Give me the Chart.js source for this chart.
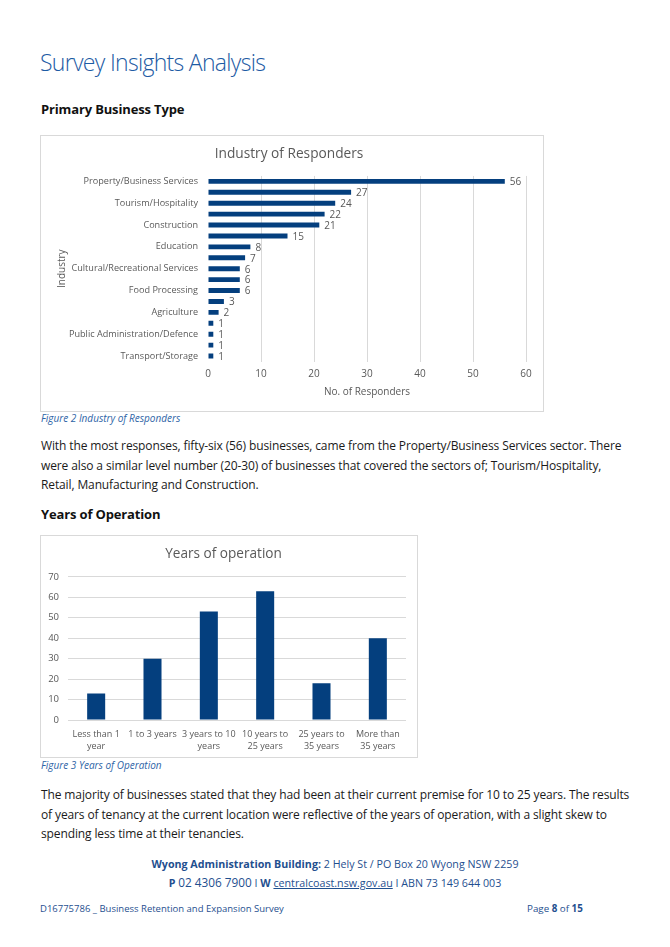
<!DOCTYPE html>
<html>
<head>
<meta charset="utf-8">
<script src="https://cdn.jsdelivr.net/npm/chart.js@4"></script>
<style>
body{margin:0;width:670px;height:947px;background:#fff;font-family:"Open Sans",sans-serif;color:#1a1a1a;position:relative;overflow:hidden}
.abs{position:absolute;white-space:nowrap}
h1{position:absolute;left:40px;top:46px;margin:0;font-size:23px;font-weight:300;color:#1d5ba4;letter-spacing:-0.7px}
h2{position:absolute;left:41px;margin:0;font-size:13px;font-weight:700;color:#111;letter-spacing:-0.15px}
.cap{position:absolute;left:41px;font-size:10px;font-style:italic;color:#2e64a6}
.para{position:absolute;left:41px;font-size:12px;line-height:19.5px;white-space:nowrap;letter-spacing:-0.12px}
.box{position:absolute;border:1px solid #d9d9d9;background:#fff}
.box canvas{position:absolute;left:0;top:0}
.foot{position:absolute;left:0;width:670px;text-align:center;color:#1f4f8f;white-space:nowrap}
</style>
</head>
<body>

<h1>Survey Insights Analysis</h1>
<h2 style="top:100px">Primary Business Type</h2>

<div class="box" style="left:40px;top:135px;width:502px;height:275px"><canvas id="industry"></canvas></div>
<div class="cap" style="top:411px">Figure 2 Industry of Responders</div>

<div class="para" style="top:436px">With the most responses, fifty-six (56) businesses, came from the Property/Business Services sector. There<br>were also a similar level number (20-30) of businesses that covered the sectors of; Tourism/Hospitality,<br>Retail, Manufacturing and Construction.</div>

<h2 style="top:505px">Years of Operation</h2>

<div class="box" style="left:40px;top:535px;width:376px;height:221px"><canvas id="years"></canvas></div>
<div class="cap" style="top:758px">Figure 3 Years of Operation</div>

<div class="para" style="top:785px">The majority of businesses stated that they had been at their current premise for 10 to 25 years. The results<br>of years of tenancy at the current location were reflective of the years of operation, with a slight skew to<br>spending less time at their tenancies.</div>

<div class="foot" style="top:857px;font-size:10.7px"><b>Wyong Administration Building:</b> 2 Hely St / PO Box 20 Wyong NSW 2259</div>
<div class="foot" style="top:874px;font-size:10.7px"><b>P</b> <span style="font-size:11.8px">02 4306 7900</span> I <b>W</b> <u>centralcoast.nsw.gov.au</u> I ABN 73 149 644 003</div>
<div class="abs" style="left:40px;top:902px;font-size:9.5px;color:#1f4f8f">D16775786 _ Business Retention and Expansion Survey</div>
<div class="abs" style="left:527px;top:902px;font-size:9.8px;color:#1f4f8f">Page <b>8</b> of <b>15</b></div>

<script>
// industry chart data (only every second label is shown in the original)
const industries=["Property/Business Services","Retail","Tourism/Hospitality","Manufacturing","Construction","",
"Education","","Cultural/Recreational Services","","Food Processing","","Agriculture","",
"Public Administration/Defence","","Transport/Storage"]
const responders=[56,27,24,22,21,15,8,7,6,6,6,3,2,1,1,1,1]
const responderTicks=[0,10,20,30,40,50,60]

// years of operation data
const yearGroups=[["Less than 1","year"],"1 to 3 years",["3 years to 10","years"],["10 years to","25 years"],["25 years to","35 years"],["More than","35 years"]]
const yearCounts=[13,30,53,63,18,40]

const BLUE="#043f7e"
const GREY="#595959"
const GRID="#d9d9d9"
const FONT="'Open Sans', sans-serif"

Chart.defaults.font.family=FONT
Chart.defaults.color=GREY

function sizeCanvas(id,w,h){
let c=document.getElementById(id)
c.width=w;c.height=h
c.style.width=w+"px";c.style.height=h+"px"
return c
}

// value labels at the end of each bar
const valueLabels={
id:"valueLabels",
afterDatasetsDraw(chart){
let ctx=chart.ctx
let meta=chart.getDatasetMeta(0)
ctx.save()
ctx.font="10px "+FONT
ctx.fillStyle=GREY
ctx.textAlign="left"
ctx.textBaseline="middle"
meta.data.forEach((bar,i)=>{
ctx.fillText(chart.data.datasets[0].data[i],bar.x+5,bar.y+1)
})
ctx.restore()
}
}

new Chart(sizeCanvas("industry",502,275),{
type:"bar",
data:{
labels:industries,
datasets:[{data:responders,backgroundColor:BLUE,categoryPercentage:1,barPercentage:0.45}]
},
options:{
indexAxis:"y",
responsive:false,
animation:false,
layout:{padding:{left:11,right:17,top:10,bottom:8}},
plugins:{
legend:{display:false},
tooltip:{enabled:false},
title:{display:true,text:"Industry of Responders",font:{size:13.7,weight:"normal"},color:GREY,padding:{top:0,bottom:13.5}}
},
scales:{
x:{
min:0,max:60,
afterFit(s){s.height=41.5},
afterBuildTicks(s){s.ticks=responderTicks.map(v=>({value:v}))},
grid:{color:c=>c.tick&&c.tick.value===0?"rgba(0,0,0,0)":GRID,drawTicks:false},
border:{display:false},
ticks:{padding:7,font:{size:10}},
title:{display:true,text:"No. of Responders",font:{size:10},padding:{top:0,bottom:5}}
},
y:{
afterFit(s){s.width=156},
grid:{display:false,drawTicks:false},
border:{display:false},
ticks:{autoSkip:false,padding:10,font:{size:9.1},callback(v,i){return i%2?"":industries[i]}},
title:{display:true,text:"Industry",font:{size:10},padding:{top:4,bottom:0}}
}
}
},
plugins:[valueLabels]
})

new Chart(sizeCanvas("years",376,221),{
type:"bar",
data:{
labels:yearGroups,
datasets:[{data:yearCounts,backgroundColor:BLUE,categoryPercentage:1,barPercentage:0.32}]
},
options:{
responsive:false,
animation:false,
layout:{padding:{left:0,right:11,top:10,bottom:3}},
plugins:{
legend:{display:false},
tooltip:{enabled:false},
title:{display:true,text:"Years of operation",font:{size:13.6,weight:"normal"},color:GREY,padding:{top:0,bottom:14.5}}
},
scales:{
x:{
afterFit(s){s.height=34},
grid:{display:false,drawTicks:false},
border:{display:false},
ticks:{autoSkip:false,maxRotation:0,padding:8,font:{size:9,lineHeight:1.33}}
},
y:{
min:0,max:70,
afterFit(s){s.width=27},
grid:{color:GRID,drawTicks:false},
border:{display:false},
ticks:{stepSize:10,padding:9,font:{size:9.5}}
}
}
}
})
</script>
</body>
</html>
